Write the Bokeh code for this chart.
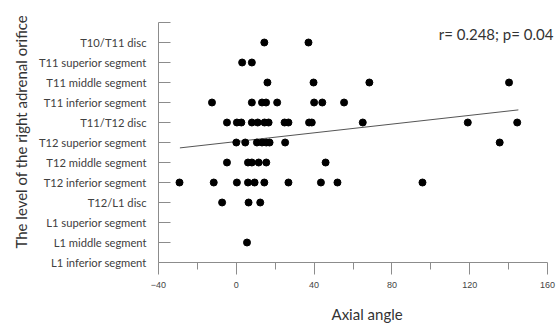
from bokeh.plotting import figure
from bokeh.models import Range1d, FixedTicker, Label, Title, LinearAxis
from bokeh.embed import file_html
from bokeh.resources import INLINE

# Vertebral levels (bottom to top)
levels = ["L1 inferior segment", "L1 middle segment", "L1 superior segment",
          "T12/L1 disc", "T12 inferior segment", "T12 middle segment",
          "T12 superior segment", "T11/T12 disc", "T11 inferior segment",
          "T11 middle segment", "T11 superior segment", "T10/T11 disc"]

# Axial angles observed at each level
t10_t11 = [14.4, 37.1]
t11_sup = [3.0, 8.0]
t11_mid = [16.0, 39.7, 68.4, 140.2]
t11_inf = [-12.5, 8.0, 13.2, 15.3, 21.0, 40.0, 44.2, 55.4]
t11_t12 = [-4.8, 0.3, 2.6, 8.0, 11.0, 14.5, 16.6, 24.8, 26.8, 37.4, 38.8, 65.0, 119.0, 144.4]
t12_sup = [0.0, 4.6, 10.6, 13.2, 15.4, 17.1, 25.1, 135.4]
t12_mid = [-4.8, 6.0, 8.0, 11.5, 15.4, 45.9]
t12_inf = [-29.2, -11.6, 0.3, 6.0, 9.4, 14.4, 26.8, 43.5, 52.0, 95.7]
t12_l1 = [-7.3, 6.3, 12.3]
l1_sup = []
l1_mid = [5.5]
l1_inf = []

# Regression line end points (angle, level index)
fit_x = [-29.0, 145.0]
fit_y = [5.73, 7.63]

x_ticks = [-40, 0, 40, 80, 120, 160]
x_minor = [-20, 20, 60, 100, 140]
stat_text = "r= 0.248; p= 0.04"
x_title = "Axial angle"
y_title = "The level of the right adrenal orifice"

groups = {
    "T10/T11 disc": t10_t11, "T11 superior segment": t11_sup,
    "T11 middle segment": t11_mid, "T11 inferior segment": t11_inf,
    "T11/T12 disc": t11_t12, "T12 superior segment": t12_sup,
    "T12 middle segment": t12_mid, "T12 inferior segment": t12_inf,
    "T12/L1 disc": t12_l1, "L1 superior segment": l1_sup,
    "L1 middle segment": l1_mid, "L1 inferior segment": l1_inf,
}
xs, ys = [], []
for name, vals in groups.items():
    for v in vals:
        xs.append(v)
        ys.append(levels.index(name))

p = figure(width=556, height=323, output_backend="svg", toolbar_location=None,
           x_range=Range1d(-40, 164.6), y_range=Range1d(0, 12),
           min_border_left=158, min_border_right=0, min_border_top=22,
           min_border_bottom=61)
p.xgrid.visible = False
p.ygrid.visible = False
p.outline_line_color = None

p.line(fit_x, fit_y, line_color="#555555", line_width=1)
p.scatter(xs, ys, size=7, fill_color="black", line_color="black")

axis_col = "#8c8c8c"
# x axis
xa = p.xaxis[0]
xa.bounds = (-40, 160)
xa.ticker = FixedTicker(ticks=x_ticks, minor_ticks=x_minor)
xa.axis_line_color = axis_col
xa.major_tick_line_color = axis_col
xa.minor_tick_line_color = axis_col
xa.major_tick_in = 0
xa.major_tick_out = 12
xa.minor_tick_in = 0
xa.minor_tick_out = 7
xa.major_label_text_font = "Liberation Sans"
xa.major_label_text_font_size = "9px"
xa.major_label_text_color = "#444444"
xa.major_label_standoff = 7

# y axis
ya = p.yaxis[0]
ya.ticker = FixedTicker(ticks=list(range(13)), minor_ticks=[])
ya.major_label_overrides = {i: (levels[i] if i < len(levels) else "") for i in range(13)}
ya.axis_line_color = axis_col
ya.major_tick_line_color = axis_col
ya.major_tick_in = 12
ya.major_tick_out = 0
ya.major_label_text_font = "Lato"
ya.major_label_text_font_size = "11.2px"
ya.major_label_text_color = "#404040"
ya.major_label_standoff = 12

# invisible spacer between the x axis and its title
spacer = LinearAxis(ticker=FixedTicker(ticks=[-40], minor_ticks=[]),
                    axis_line_color=None, major_tick_line_color=None,
                    minor_tick_line_color=None, major_tick_in=0,
                    major_tick_out=11, minor_tick_in=0, minor_tick_out=0,
                    major_label_standoff=0, major_label_text_font_size="0px",
                    major_label_text_color=None)
p.add_layout(spacer, "below")

# axis titles and statistics text
p.add_layout(Title(text=x_title, align="left", offset=173, standoff=2,
                   text_font="Lato", text_font_size="15px",
                   text_font_style="normal", text_color="#333333"), "below")
p.add_layout(Title(text=y_title, align="left", offset=14, standoff=12,
                   text_font="Lato", text_font_size="15px",
                   text_font_style="normal", text_color="#333333"), "left")
p.add_layout(Label(x=163, y=11.45, text=stat_text, text_align="right",
                   text_baseline="middle", text_font="Lato",
                   text_font_size="15px", text_color="#333333"))

open("out.html", "w").write(file_html(p, INLINE))
